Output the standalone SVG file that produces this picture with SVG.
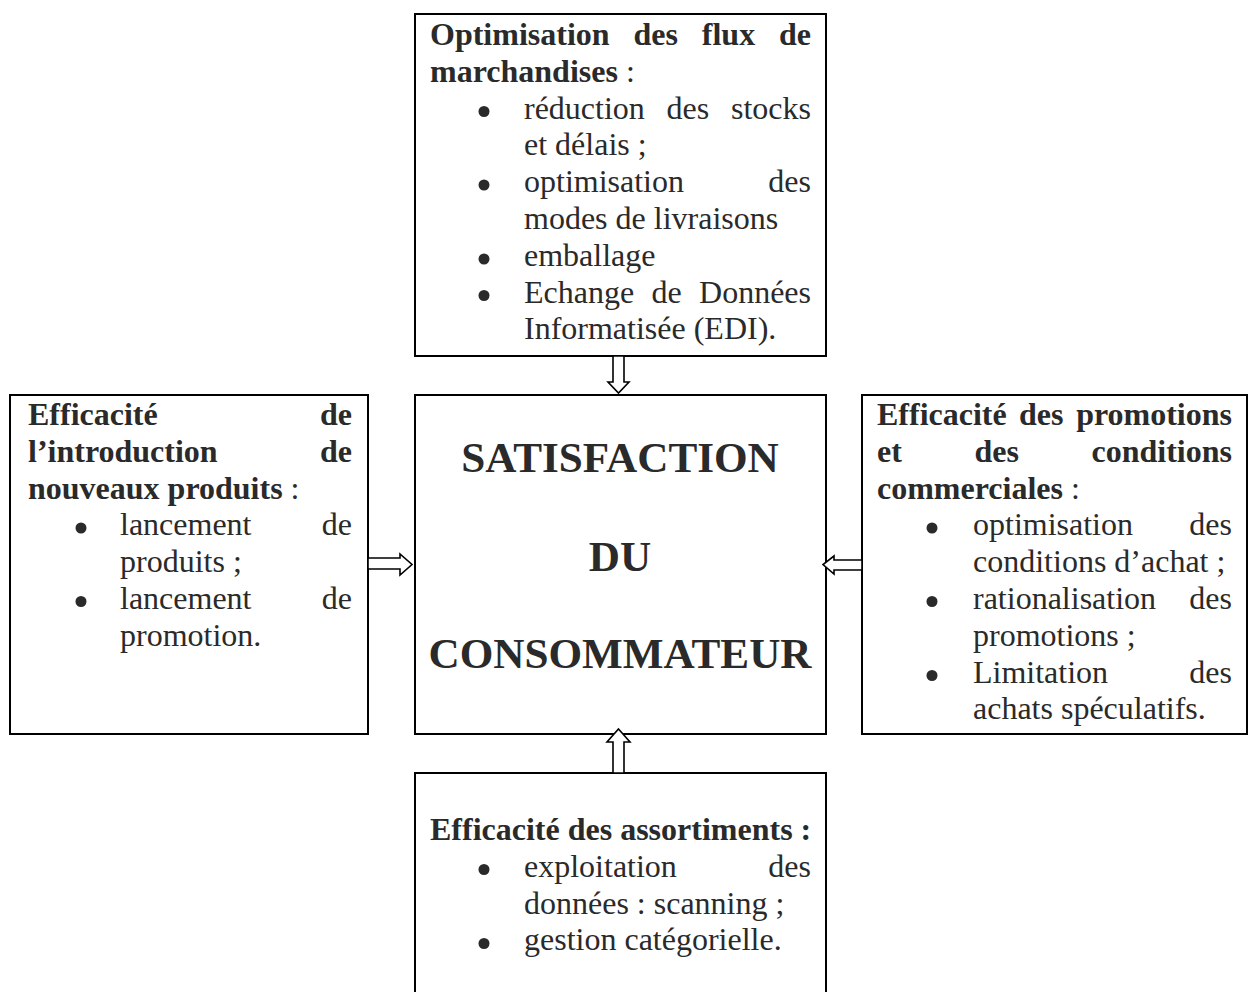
<svg xmlns="http://www.w3.org/2000/svg" width="1248" height="992" viewBox="0 0 1248 992">
<style>
.box{fill:#fff;stroke:#000;stroke-width:2}
.t{font-family:"Liberation Serif","Times New Roman",serif;font-size:32px;fill:#2a2a2a}
.b{font-weight:bold}
.c{font-family:"Liberation Serif","Times New Roman",serif;font-size:43.2px;font-weight:bold;fill:#2a2a2a;text-anchor:middle}
.e{text-anchor:end}
.dot{fill:#2a2a2a}
.arr{fill:#fff;stroke:#000;stroke-width:1.6;stroke-linejoin:miter}
</style>
<rect width="1248" height="992" fill="#fff"/>

<g id="top">
<rect class="box" x="415" y="14" width="411" height="342"/>
<text class="t b" y="45"><tspan x="430">Optimisation</tspan><tspan x="633.5">des</tspan><tspan x="701.8">flux</tspan></text>
<text class="t b e" x="811" y="45">de</text>
<text class="t" x="430" y="81.8"><tspan class="b">marchandises</tspan> :</text>
<circle class="dot" cx="484" cy="111.5" r="5.5"/>
<text class="t" y="118.6"><tspan x="524">réduction</tspan><tspan x="666.5">des</tspan></text>
<text class="t e" x="811" y="118.6">stocks</text>
<text class="t" x="524" y="155.4">et délais ;</text>
<circle class="dot" cx="484" cy="185" r="5.5"/>
<text class="t" x="524" y="192.2">optimisation</text>
<text class="t e" x="811" y="192.2">des</text>
<text class="t" x="524" y="229">modes de livraisons</text>
<circle class="dot" cx="484" cy="259" r="5.5"/>
<text class="t" x="524" y="265.8">emballage</text>
<circle class="dot" cx="484" cy="295.5" r="5.5"/>
<text class="t" y="302.6"><tspan x="524">Echange</tspan><tspan x="651.5">de</tspan></text>
<text class="t e" x="811" y="302.6">Données</text>
<text class="t" x="524" y="339.4">Informatisée (EDI).</text>
</g>

<g id="center">
<rect class="box" x="415" y="395" width="411" height="339"/>
<text class="c" x="620" y="472">SATISFACTION</text>
<text class="c" x="620" y="571">DU</text>
<text class="c" x="620" y="668">CONSOMMATEUR</text>
</g>

<g id="left">
<rect class="box" x="10" y="395" width="358" height="339"/>
<text class="t b" x="28" y="425">Efficacité</text>
<text class="t b e" x="352" y="425">de</text>
<text class="t b" x="28" y="461.8">l’introduction</text>
<text class="t b e" x="352" y="461.8">de</text>
<text class="t" x="28" y="498.6"><tspan class="b">nouveaux produits</tspan> :</text>
<circle class="dot" cx="81" cy="528" r="5.5"/>
<text class="t" x="120" y="535.4">lancement</text>
<text class="t e" x="352" y="535.4">de</text>
<text class="t" x="120" y="572.2">produits ;</text>
<circle class="dot" cx="81" cy="601.5" r="5.5"/>
<text class="t" x="120" y="609">lancement</text>
<text class="t e" x="352" y="609">de</text>
<text class="t" x="120" y="645.8">promotion.</text>
</g>

<g id="right">
<rect class="box" x="862" y="395" width="385" height="339"/>
<text class="t b" y="425"><tspan x="877">Efficacité</tspan><tspan x="1018.9">des</tspan></text>
<text class="t b e" x="1232" y="425">promotions</text>
<text class="t b" y="461.8"><tspan x="877">et</tspan><tspan x="974.5">des</tspan></text>
<text class="t b e" x="1232" y="461.8">conditions</text>
<text class="t" x="877" y="498.6"><tspan class="b">commerciales</tspan> :</text>
<circle class="dot" cx="932" cy="528" r="5.5"/>
<text class="t" x="973" y="535.4">optimisation</text>
<text class="t e" x="1232" y="535.4">des</text>
<text class="t" x="973" y="572.2">conditions d’achat ;</text>
<circle class="dot" cx="932" cy="601.5" r="5.5"/>
<text class="t" x="973" y="609">rationalisation</text>
<text class="t e" x="1232" y="609">des</text>
<text class="t" x="973" y="645.8">promotions ;</text>
<circle class="dot" cx="932" cy="675.5" r="5.5"/>
<text class="t" x="973" y="682.6">Limitation</text>
<text class="t e" x="1232" y="682.6">des</text>
<text class="t" x="973" y="719.4">achats spéculatifs.</text>
</g>

<g id="bottom">
<rect class="box" x="415" y="773" width="411" height="230"/>
<text class="t b" x="430" y="840">Efficacité des assortiments :</text>
<circle class="dot" cx="484" cy="869.5" r="5.5"/>
<text class="t" x="524" y="876.8">exploitation</text>
<text class="t e" x="811" y="876.8">des</text>
<text class="t" x="524" y="913.6">données : scanning ;</text>
<circle class="dot" cx="484" cy="943.5" r="5.5"/>
<text class="t" x="524" y="950.4">gestion catégorielle.</text>
</g>

<g id="connectors">
<polygon class="arr" points="613,356 624,356 624,382 629,382 618.5,393 608,382 613,382"/>
<polygon class="arr" points="618.5,729 630,742 624,742 624,773 613,773 613,742 607,742"/>
<polygon class="arr" points="368,558 400,558 400,554 412,564.5 400,575 400,569 368,569"/>
<polygon class="arr" points="862,560 834,560 834,556 823,564.5 834,574 834,570 862,570"/>
</g>
</svg>
